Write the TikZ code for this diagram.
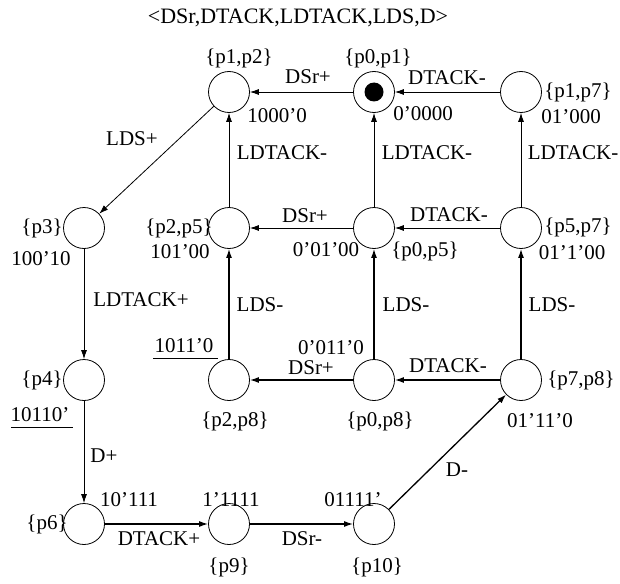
\documentclass[tikz,border=0pt]{standalone}
\usepackage{fontspec}
\setmainfont{Liberation Serif}
\usetikzlibrary{arrows.meta}
\begin{document}
\begin{tikzpicture}[x=1pt,y=-1pt,
  place/.style={circle,draw,line width=0.8pt,minimum size=41pt,inner sep=0pt},
  lbl/.style={inner sep=0pt,font=\fontsize{21}{24}\selectfont},
  arc/.style={-{Latex[length=9pt,width=6pt]},line width=0.8pt},
  tarc/.style={arc,line width=1.3pt}]
\useasboundingbox (0,0) rectangle (620,583);
% places
\node[place] (p12) at (229,92) {};
\node[place] (p01) at (374,92) {};
\node[place] (p17) at (521,92) {};
\node[place] (p3)  at (84,228) {};
\node[place] (p25) at (229,228) {};
\node[place] (p05) at (374,228) {};
\node[place] (p57) at (521,228) {};
\node[place] (p4)  at (84,380) {};
\node[place] (p28) at (229,380) {};
\node[place] (p08) at (374,380) {};
\node[place] (p78) at (521,380) {};
\node[place] (p6)  at (84,524) {};
\node[place] (p9)  at (229,524) {};
\node[place] (p10) at (374,524) {};
\fill (p01.center) circle[radius=9.5pt];
% title
\node[lbl,font=\fontsize{22}{25}\selectfont] (title) at (298,18) {<DSr,DTACK,LDTACK,LDS,D>};
% state labels
\node[lbl] (s12a) at (239,58) {\{p1,p2\}};
\node[lbl] (s12b) at (277,116) {1000'0};
\node[lbl] (s01a) at (378,58) {\{p0,p1\}};
\node[lbl] (s01b) at (423,114) {0'0000};
\node[lbl] (s17a) at (578,92) {\{p1,p7\}};
\node[lbl] (s17b) at (571,117) {01'000};
\node[lbl] (s3a) at (42,228) {\{p3\}};
\node[lbl] (s3b) at (41,259) {100'10};
\node[lbl] (s25a) at (179,228) {\{p2,p5\}};
\node[lbl] (s25b) at (180,252) {101'00};
\node[lbl] (s05a) at (326,250) {0'01'00};
\node[lbl] (s05b) at (425,251) {\{p0,p5\}};
\node[lbl] (s57a) at (578,227) {\{p5,p7\}};
\node[lbl] (s57b) at (572,253) {01'1'00};
\node[lbl] (s4a) at (42,380) {\{p4\}};
\node[lbl] (s4b) at (40,415) {10110'};
\node[lbl] (s28a) at (184,346) {1011'0};
\node[lbl] (s28b) at (235,421) {\{p2,p8\}};
\node[lbl] (s08a) at (331,348) {0'011'0};
\node[lbl] (s08b) at (380,421) {\{p0,p8\}};
\node[lbl] (s78a) at (581,380) {\{p7,p8\}};
\node[lbl] (s78b) at (540,421) {01'11'0};
\node[lbl] (s6a) at (47,524) {\{p6\}};
\node[lbl] (s6b) at (129,500) {10'111};
\node[lbl] (s9a) at (231,500) {1'1111};
\node[lbl] (s9b) at (229,567) {\{p9\}};
\node[lbl] (s10a) at (353,500) {01111'};
\node[lbl] (s10b) at (377,567) {\{p10\}};
\draw[line width=0.8pt] (153,358) coordinate (u1a) -- (218,358) coordinate (u1b);
\draw[line width=0.8pt] (11,427) coordinate (u2a) -- (73,427) coordinate (u2b);
% arcs
\draw[arc] (p01) -- (p12);
\draw[arc] (p17) -- (p01);
\draw[arc] (p25) -- (p12);
\draw[arc] (p05) -- (p01);
\draw[arc] (p57) -- (p17);
\draw[arc] (p12) -- (p3);
\draw[arc] (p05) -- (p25);
\draw[arc] (p57) -- (p05);
\draw[arc] (p3) -- (p4);
\draw[tarc] (p28) -- (p25);
\draw[tarc] (p08) -- (p05);
\draw[tarc] (p78) -- (p57);
\draw[tarc] (p08) -- (p28);
\draw[tarc] (p78) -- (p08);
\draw[arc] (p4) -- (p6);
\draw[tarc] (p6) -- (p9);
\draw[tarc] (p9) -- (p10);
\draw[tarc] (p10) -- (p78);
% transition labels
\node[lbl] (t1) at (308,77) {DSr+};
\node[lbl] (t2) at (447,78) {DTACK-};
\node[lbl] (t3) at (282,153) {LDTACK-};
\node[lbl] (t4) at (427,153) {LDTACK-};
\node[lbl] (t5) at (573,153) {LDTACK-};
\node[lbl] (t6) at (132,139) {LDS+};
\node[lbl] (t7) at (305,216) {DSr+};
\node[lbl] (t8) at (449,215) {DTACK-};
\node[lbl] (t9) at (141,300) {LDTACK+};
\node[lbl] (t10) at (260,305) {LDS-};
\node[lbl] (t11) at (406,305) {LDS-};
\node[lbl] (t12) at (552,305) {LDS-};
\node[lbl] (t13) at (311,368) {DSr+};
\node[lbl] (t14) at (448,366) {DTACK-};
\node[lbl] (t15) at (104,456) {D+};
\node[lbl] (t16) at (457,470) {D-};
\node[lbl] (t17) at (159,539) {DTACK+};
\node[lbl] (t18) at (302,539) {DSr-};
\end{tikzpicture}
\end{document}
